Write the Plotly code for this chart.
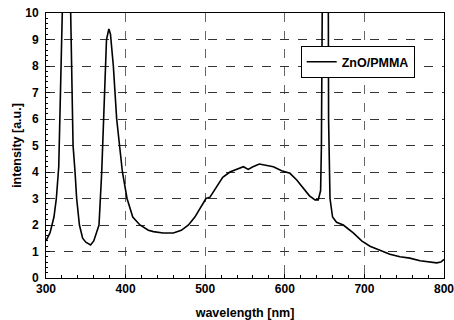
import plotly.graph_objects as go

wavelength = [300, 305, 310, 313, 316, 318, 320, 322, 326, 329, 331, 334, 336.5, 338.5, 342, 346, 350, 356, 360,
              363.6, 366.6, 370, 373.7, 376, 379, 381, 384.6, 388.8, 396, 401.8, 409, 418, 428.6, 435, 447, 460,
              470, 479, 487, 493, 501, 506, 513.6, 522, 531, 539.5, 548, 554, 560, 568, 577, 585.6, 596, 606.5,
              615, 623, 631, 638, 642, 645, 646, 647, 650, 654.7, 655, 656.8, 660, 665, 673.5, 686, 696.6, 707,
              719.6, 732, 744.7, 757, 770, 782, 790.8, 796, 800]
intensity = [1.4, 1.7, 2.3, 3.0, 4.2, 6.7, 10.0, 12.0, 13.0, 12.0, 10.0, 5.0, 4.0, 3.0, 2.0, 1.5, 1.35, 1.25, 1.4,
             1.7, 2.0, 4.0, 7.0, 9.0, 9.4, 9.2, 8.0, 6.0, 4.0, 3.0, 2.3, 2.0, 1.8, 1.75, 1.7, 1.7,
             1.8, 2.0, 2.3, 2.6, 3.0, 3.05, 3.4, 3.8, 4.0, 4.1, 4.2, 4.1, 4.2, 4.3, 4.25, 4.2, 4.05, 3.95,
             3.7, 3.4, 3.1, 2.95, 2.95, 3.3, 5.0, 10.0, 13.0, 10.0, 6.0, 3.0, 2.3, 2.1, 2.0, 1.7, 1.4, 1.2,
             1.05, 0.9, 0.8, 0.75, 0.65, 0.6, 0.57, 0.6, 0.7]

x_ticks = [300, 400, 500, 600, 700, 800]
y_ticks = [0, 1, 2, 3, 4, 5, 6, 7, 8, 9, 10]

fig = go.Figure()
fig.add_trace(go.Scatter(x=wavelength, y=intensity, mode="lines", name="ZnO/PMMA",
                         line=dict(color="black", width=1.6)))

font_family = "Liberation Sans, Arial, sans-serif"
fig.update_layout(
    width=454, height=320,
    margin=dict(l=46, r=10, t=13, b=42, autoexpand=False),
    paper_bgcolor="white", plot_bgcolor="white",
    font=dict(family=font_family, color="black", size=12),
    showlegend=True,
    legend=dict(x=0.64, y=0.875, xanchor="left", yanchor="top",
                bordercolor="black", borderwidth=1, bgcolor="white",
                font=dict(size=12.5, family=font_family, weight="bold"),
                itemwidth=30),
)
fig.update_xaxes(
    automargin=False,
    range=[300, 800], tickvals=x_ticks, ticktext=[str(v) for v in x_ticks],
    showgrid=True, gridcolor="#666", griddash="dash", gridwidth=1,
    showline=True, linecolor="black", linewidth=1, mirror=True,
    ticks="inside", ticklen=4, tickcolor="black", ticklabeloverflow="allow",
    minor=dict(dtick=20, ticks="inside", ticklen=3, tickcolor="black", showgrid=False),
    tickfont=dict(size=12, weight="bold"),
    title=dict(text="wavelength [nm]", font=dict(size=12.5, weight="bold"), standoff=14),
    zeroline=False,
)
fig.update_yaxes(
    automargin=False,
    range=[0, 10], tickvals=y_ticks, ticktext=[str(v) for v in y_ticks],
    showgrid=True, gridcolor="#333", griddash="dash", gridwidth=1,
    showline=True, linecolor="black", linewidth=1, mirror=True,
    ticks="inside", ticklen=4, tickcolor="black", ticklabelstandoff=4, ticklabeloverflow="allow",
    minor=dict(dtick=0.2, ticks="inside", ticklen=2, tickcolor="black", showgrid=False),
    tickfont=dict(size=12, weight="bold"),
    title=dict(text="intensity [a.u.]", font=dict(size=12.5, weight="bold"), standoff=0),
    zeroline=False,
)
fig.write_html("out.html", config={"displayModeBar": False},
               post_script="document.body.style.margin='0';")
